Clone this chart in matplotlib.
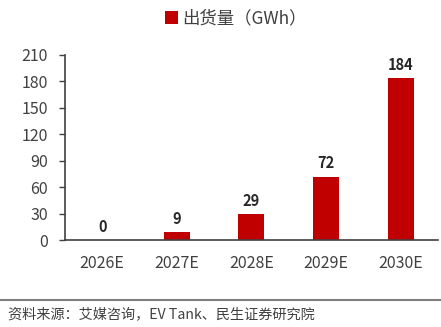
import numpy as np
import matplotlib.pyplot as plt
from matplotlib.lines import Line2D

plt.rcParams['font.family'] = ['Noto Sans CJK SC', 'DejaVu Sans']

years = ["2026E", "2027E", "2028E", "2029E", "2030E"]
shipments = [0, 9, 29, 72, 184]
yticks = [0, 30, 60, 90, 120, 150, 180, 210]

fig = plt.figure(figsize=(4.41, 3.27), dpi=100)
ax = fig.add_axes([0.147, 0.266, 0.846, 0.566])

xlocs = np.arange(len(years))
bars = ax.bar(xlocs, shipments, 0.35, color='#C00000', label='出货量（GWh）')
for x, v in zip(xlocs, shipments):
    ax.text(x, v + 6, str(v), ha='center', va='bottom', fontsize=10.5,
            fontweight='bold', color='#262626')

ax.set_xlim(-0.5, 4.5)
ax.set_ylim(0, 210)
ax.set_yticks(yticks)
ax.set_xticks(xlocs)
ax.set_xticklabels(years)
ax.tick_params(axis='x', length=0, pad=11, labelsize=11.5, labelcolor='#404040')
ax.tick_params(axis='y', direction='out', length=4, width=1, color='#404040',
               labelsize=11.5, labelcolor='#404040', pad=8)
for s in ['top', 'right']:
    ax.spines[s].set_visible(False)
for s in ['left', 'bottom']:
    ax.spines[s].set_color('#404040')
    ax.spines[s].set_linewidth(1.2)

ax.legend(loc='upper center', bbox_to_anchor=(0.458, 1.33), frameon=False,
          fontsize=12.5, labelcolor='#404040', handlelength=0.75, handleheight=0.75,
          handletextpad=0.25)

fig.add_artist(Line2D([0, 1], [0.083, 0.083], color='#7f7f7f', linewidth=1.5))
fig.text(0.018, 0.04, '资料来源：艾媒咨询，EV Tank、民生证券研究院', fontsize=10.2,
         color='#404040', va='center')

fig.savefig('out.png', dpi=100)
